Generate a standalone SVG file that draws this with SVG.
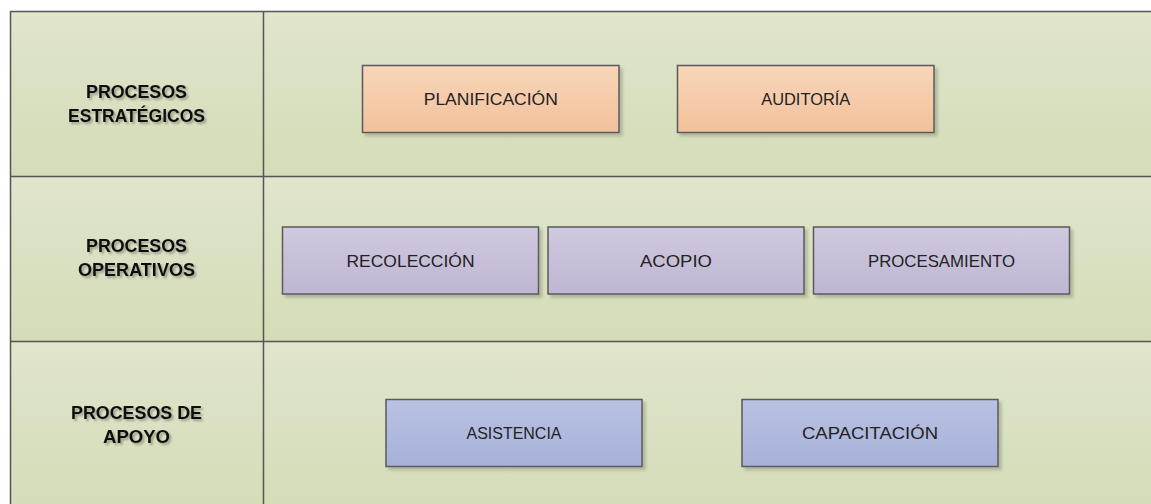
<svg xmlns="http://www.w3.org/2000/svg" width="1151" height="504" viewBox="0 0 1151 504">
<defs>
<linearGradient id="gRow" x1="0" y1="0" x2="0" y2="1">
<stop offset="0" stop-color="#e0e5cc"/>
<stop offset="1" stop-color="#d4dcb7"/>
</linearGradient>
<linearGradient id="gOrange" x1="0" y1="0" x2="0" y2="1">
<stop offset="0" stop-color="#f8d6b9"/>
<stop offset="1" stop-color="#f2c19c"/>
</linearGradient>
<linearGradient id="gPurple" x1="0" y1="0" x2="0" y2="1">
<stop offset="0" stop-color="#d0c9df"/>
<stop offset="1" stop-color="#bfb6d3"/>
</linearGradient>
<linearGradient id="gBlue" x1="0" y1="0" x2="0" y2="1">
<stop offset="0" stop-color="#b9c2e3"/>
<stop offset="1" stop-color="#a7b1d8"/>
</linearGradient>
<filter id="boxShadow" x="-10%" y="-20%" width="120%" height="150%">
<feDropShadow dx="3" dy="3" stdDeviation="1.5" flood-color="#000" flood-opacity="0.18"/>
</filter>
<filter id="textShadow" x="-10%" y="-30%" width="120%" height="170%">
<feDropShadow dx="2" dy="2" stdDeviation="1" flood-color="#000" flood-opacity="0.3"/>
</filter>
</defs>
<style>
.cell{fill:url(#gRow);}
.grid{stroke:#555;stroke-width:1.5;fill:none;}
.node rect{stroke:#5a5a5a;stroke-width:1.5;filter:url(#boxShadow);}
.node text{font-family:"Liberation Sans",Arial,sans-serif;font-size:17px;fill:#222;text-anchor:middle;}
.lane text{font-family:"Liberation Sans",Arial,sans-serif;font-size:17.5px;font-weight:bold;fill:#111;text-anchor:middle;filter:url(#textShadow);}
.o{fill:url(#gOrange);}
.p{fill:url(#gPurple);}
.b{fill:url(#gBlue);}
</style>
<rect width="1151" height="504" fill="#ffffff"/>

<g id="lanes">
<g id="lane-estrategicos" class="lane">
<rect class="cell" x="10.5" y="11.5" width="1150" height="165"/>
<text x="136.5" y="97.5" textLength="101" lengthAdjust="spacingAndGlyphs">PROCESOS</text>
<text x="136.5" y="122" textLength="137" lengthAdjust="spacingAndGlyphs">ESTRATÉGICOS</text>
</g>
<g id="lane-operativos" class="lane">
<rect class="cell" x="10.5" y="176.5" width="1150" height="165"/>
<text x="136.5" y="252" textLength="101" lengthAdjust="spacingAndGlyphs">PROCESOS</text>
<text x="136.5" y="275.5" textLength="117" lengthAdjust="spacingAndGlyphs">OPERATIVOS</text>
</g>
<g id="lane-apoyo" class="lane">
<rect class="cell" x="10.5" y="341.5" width="1150" height="170"/>
<text x="136.5" y="418.5" textLength="131" lengthAdjust="spacingAndGlyphs">PROCESOS DE</text>
<text x="136.5" y="443" textLength="67" lengthAdjust="spacingAndGlyphs">APOYO</text>
</g>
<path class="grid" d="M10.5 520 V11.5 H1160 M263.5 11.5 V520 M10.5 176.5 H1160 M10.5 341.5 H1160"/>
</g>

<g id="connectors"></g>

<g id="nodes">
<g id="n-planificacion" class="node">
<rect class="o" x="362.5" y="65.5" width="256.5" height="67"/>
<text x="490.75" y="105" textLength="134" lengthAdjust="spacingAndGlyphs">PLANIFICACIÓN</text>
</g>
<g id="n-auditoria" class="node">
<rect class="o" x="677.5" y="65.5" width="256.5" height="67"/>
<text x="805.75" y="105" textLength="89" lengthAdjust="spacingAndGlyphs">AUDITORÍA</text>
</g>
<g id="n-recoleccion" class="node">
<rect class="p" x="282.5" y="227" width="256" height="67"/>
<text x="410.5" y="266.5" textLength="128" lengthAdjust="spacingAndGlyphs">RECOLECCIÓN</text>
</g>
<g id="n-acopio" class="node">
<rect class="p" x="548" y="227" width="256" height="67"/>
<text x="676" y="266.5" textLength="72" lengthAdjust="spacingAndGlyphs">ACOPIO</text>
</g>
<g id="n-procesamiento" class="node">
<rect class="p" x="813.5" y="227" width="256" height="67"/>
<text x="941.5" y="266.5" textLength="147" lengthAdjust="spacingAndGlyphs">PROCESAMIENTO</text>
</g>
<g id="n-asistencia" class="node">
<rect class="b" x="386" y="399.5" width="256" height="67"/>
<text x="514" y="439" textLength="95" lengthAdjust="spacingAndGlyphs">ASISTENCIA</text>
</g>
<g id="n-capacitacion" class="node">
<rect class="b" x="742" y="399.5" width="256" height="67"/>
<text x="870" y="439" textLength="136" lengthAdjust="spacingAndGlyphs">CAPACITACIÓN</text>
</g>
</g>
</svg>
